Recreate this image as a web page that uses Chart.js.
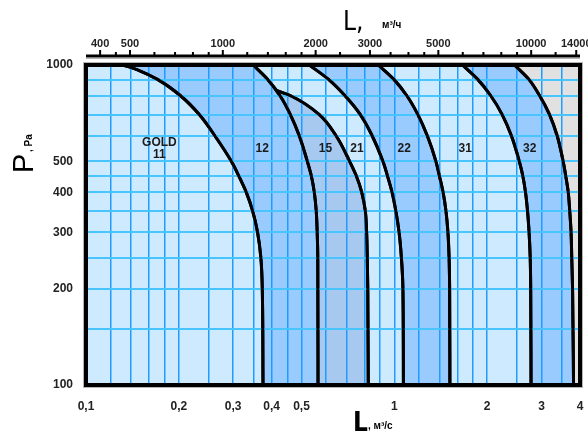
<!DOCTYPE html>
<html>
<head>
<meta charset="utf-8">
<script src="https://cdn.jsdelivr.net/npm/chart.js@4.4.1/dist/chart.umd.min.js"></script>
<style>
  html, body { margin: 0; padding: 0; background: #fff; }
  #wrap { width: 588px; height: 432px; }
</style>
</head>
<body>
<div id="wrap"><canvas id="chart" width="588" height="432"></canvas></div>
<script>
// upper limit of each unit size: L (m³/s), P (Pa)
const gold11 = [[0.132,1000],[0.1475,964],[0.171,900],[0.203,800],[0.233,700],[0.262,600],[0.296,500],[0.313,450],[0.331,400],[0.347,350],[0.360,300],[0.369,250],[0.373,200],[0.375,100]];
const gold12 = [[0.3485,1000],[0.389,900],[0.4265,800],[0.460,700],[0.492,600],[0.522,500],[0.538,450],[0.550,400],[0.558,350],[0.562,300],[0.5645,250],[0.5655,100]];
const gold15 = [[0.412,835],[0.463,800],[0.571,700],[0.648,600],[0.716,500],[0.753,450],[0.784,400],[0.805,350],[0.813,300],[0.817,250],[0.820,200],[0.823,100]];
const gold21 = [[0.530,1000],[0.613,900],[0.693,800],[0.7755,700],[0.848,600],[0.918,500],[0.950,450],[0.983,400],[1.011,350],[1.036,300],[1.054,250],[1.066,200],[1.070,100]];
const gold22 = [[0.887,1000],[0.998,900],[1.0995,800],[1.192,700],[1.280,600],[1.364,500],[1.400,450],[1.439,400],[1.470,350],[1.492,300],[1.505,250],[1.511,200],[1.514,100]];
const gold31 = [[1.663,1000],[1.867,900],[2.057,800],[2.237,700],[2.398,600],[2.542,500],[2.610,450],[2.663,400],[2.703,350],[2.735,300],[2.758,250],[2.768,200],[2.775,100]];
const gold32 = [[2.4525,1000],[2.735,900],[2.963,800],[3.186,700],[3.375,600],[3.527,500],[3.596,450],[3.664,400],[3.705,350],[3.742,300],[3.761,250],[3.784,200],[3.812,100]];

const sizeNames = [['GOLD', '11'], ['12'], ['15'], ['21'], ['22'], ['31'], ['32']];

const xGridTicks = [0.1,0.12,0.14,0.16,0.18,0.2,0.25,0.3,0.35,0.4,0.45,0.5,0.6,0.7,0.8,0.9,1,1.2,1.4,1.6,1.8,2,2.5,3,3.5,4];
const xLabelTicks = [0.1,0.2,0.3,0.4,0.5,1,2,3,4];
const yGridTicks = [100,150,200,250,300,350,400,450,500,600,700,800,900,1000];
const yLabelTicks = [100,200,300,400,500,1000];
const topTicks = [400,450,500,600,700,800,900,1000,1200,1400,1600,1800,2000,2400,3000,3500,4000,4500,5000,6000,7000,8000,9000,10000,12000,14000];
const topLabelTicks = [400,500,1000,2000,3000,5000,10000,14000];

const xMin = 0.1, xMax = 4, yMin = 100, yMax = 1000;
const family = '"Liberation Sans", Arial, sans-serif';
const narrow = '"Liberation Sans Narrow", "DejaVu Sans Condensed", "Liberation Sans", sans-serif';

// where the size names sit (L, P)
const labelAnchors = [[0.173,546],[0.373,546],[0.598,546],[0.756,546],[1.077,546],[1.698,546],[2.747,546]];

const toPoints = arr => arr.map(([x, y]) => ({x, y}));
// closed band: down the right curve, back up the left one
const band = (lower, upper) => toPoints([...upper, ...lower.slice().reverse()]);

// curves are smoothed along P, so the steep parts stay monotone
const smooth = { indexAxis: 'y', cubicInterpolationMode: 'monotone', pointRadius: 0 };
const area = (data, color) => ({
    ...smooth, data, fill: 'shape', backgroundColor: color,
    borderColor: 'rgba(0,0,0,0)', borderWidth: 0
});
const outline = data => ({
    ...smooth, data: toPoints(data), outline: true, fill: false,
    borderColor: '#000', borderWidth: 3
});

const datasets = [
    outline(gold11), outline(gold12), outline(gold15), outline(gold21),
    outline(gold22), outline(gold31), outline(gold32),
    area(band(gold11, gold12), '#99cbff'),
    area(band(gold12.slice(2), gold15), '#a7c8ef'),
    area(band(gold21, gold22), '#99cbff'),
    area(band(gold31, gold32), '#99cbff'),
    area(toPoints([...gold32, [xMax, yMin], [xMax, yMax]]), '#e1e1e1')
];

const decor = {
    id: 'decor',
    beforeDraw(chart) {
        const {ctx, chartArea: a} = chart;
        ctx.save();
        ctx.fillStyle = '#cdeaff';
        ctx.fillRect(a.left, a.top, a.right - a.left, a.bottom - a.top);
        ctx.restore();
    },
    afterDraw(chart) {
        const {ctx, chartArea: a, scales} = chart;

        // curves go back over the grid
        ctx.save();
        ctx.beginPath();
        ctx.rect(a.left, a.top, a.right - a.left, a.bottom - a.top);
        ctx.clip();
        chart.data.datasets.forEach((ds, i) => {
            if (ds.outline) chart.getDatasetMeta(i).controller.draw();
        });
        ctx.restore();

        ctx.save();
        ctx.strokeStyle = '#b4b4b4';
        ctx.lineWidth = 1;
        ctx.strokeRect(a.left - 2.5, a.top - 2.5, a.right - a.left + 5, a.bottom - a.top + 5);
        ctx.strokeStyle = '#000';
        ctx.lineWidth = 4;
        ctx.strokeRect(a.left, a.top, a.right - a.left, a.bottom - a.top);

        // m³/h axis above the frame
        const y0 = a.top - 9;
        ctx.strokeStyle = '#b4b4b4';
        ctx.lineWidth = 1;
        ctx.beginPath();
        ctx.moveTo(a.left, y0 + 2.5);
        ctx.lineTo(a.right, y0 + 2.5);
        ctx.stroke();
        ctx.strokeStyle = '#000';
        ctx.lineWidth = 3;
        ctx.beginPath();
        ctx.moveTo(a.left, y0);
        ctx.lineTo(a.right, y0);
        ctx.stroke();
        ctx.fillStyle = '#000';
        topTicks.forEach(v => {
            const x = scales.xTop.getPixelForValue(v);
            const len = topLabelTicks.includes(v) ? 6 : 4;
            ctx.fillRect(x - 1, y0 - len, 2, len);
        });

        // size names
        ctx.fillStyle = '#1a1a1a';
        ctx.font = 'bold 12px ' + family;
        ctx.textAlign = 'center';
        ctx.textBaseline = 'middle';
        sizeNames.forEach((lines, i) => {
            const x = scales.x.getPixelForValue(labelAnchors[i][0]);
            const y = scales.y.getPixelForValue(labelAnchors[i][1]);
            lines.forEach((t, k) => ctx.fillText(t, x, y + (k - (lines.length - 1) / 2) * 12));
        });

        // axis titles
        ctx.textAlign = 'left';
        ctx.textBaseline = 'alphabetic';
        ctx.fillStyle = '#000';
        ctx.font = '26px ' + narrow;
        ctx.fillText('L,', 343, 30);
        ctx.font = 'bold 10px ' + family;
        ctx.fillText('м³/ч', 382, 28);

        ctx.font = 'bold 26px ' + narrow;
        ctx.fillText('L', 353, 431);
        ctx.font = 'bold 10px ' + family;
        ctx.fillText(', м³/с', 368, 429);

        ctx.translate(33, 173);
        ctx.rotate(-Math.PI / 2);
        ctx.font = '29px ' + family;
        ctx.fillText('P', 0, 0);
        ctx.font = 'bold 10px ' + family;
        ctx.fillText(', Pa', 21, -1);
        ctx.restore();
    }
};

const tickFont = size => ({family, size, weight: 'bold'});
const noOverhang = s => { s.paddingLeft = 0; s.paddingRight = 0; s.paddingTop = 0; s.paddingBottom = 0; };

new Chart(document.getElementById('chart'), {
    type: 'line',
    data: { datasets },
    options: {
        responsive: false,
        animation: false,
        devicePixelRatio: 1,
        layout: { padding: { right: 8 } },
        plugins: { legend: { display: false }, tooltip: { enabled: false } },
        scales: {
            x: {
                type: 'logarithmic', position: 'bottom', min: xMin, max: xMax,
                afterBuildTicks: s => { s.ticks = xGridTicks.map(v => ({value: v})); },
                afterFit: s => { s.height = 47; noOverhang(s); },
                ticks: {
                    autoSkip: false, maxRotation: 0, padding: 14, color: '#222', font: tickFont(12),
                    callback: v => xLabelTicks.includes(v) ? String(v).replace('.', ',') : ''
                },
                grid: { z: 1, color: '#1e9cff', lineWidth: 1.5, drawTicks: false },
                border: { display: false }
            },
            xTop: {
                type: 'logarithmic', position: 'top', min: xMin * 3600, max: xMax * 3600,
                afterBuildTicks: s => { s.ticks = topTicks.map(v => ({value: v})); },
                afterFit: s => { s.height = 65; noOverhang(s); },
                ticks: {
                    autoSkip: false, maxRotation: 0, padding: 14, color: '#222', font: tickFont(11),
                    callback: v => topLabelTicks.includes(v) ? String(v) : ''
                },
                grid: { display: false, drawTicks: false },
                border: { display: false }
            },
            y: {
                type: 'logarithmic', position: 'left', min: yMin, max: yMax,
                afterBuildTicks: s => { s.ticks = yGridTicks.map(v => ({value: v})); },
                afterFit: s => { s.width = 86; noOverhang(s); },
                ticks: {
                    autoSkip: false, padding: 13, color: '#222', font: tickFont(12),
                    callback: v => yLabelTicks.includes(v) ? String(v) : ''
                },
                grid: { z: 1, color: '#48c4ff', lineWidth: 2, drawTicks: false },
                border: { display: false }
            }
        }
    },
    plugins: [decor]
});
</script>
</body>
</html>
